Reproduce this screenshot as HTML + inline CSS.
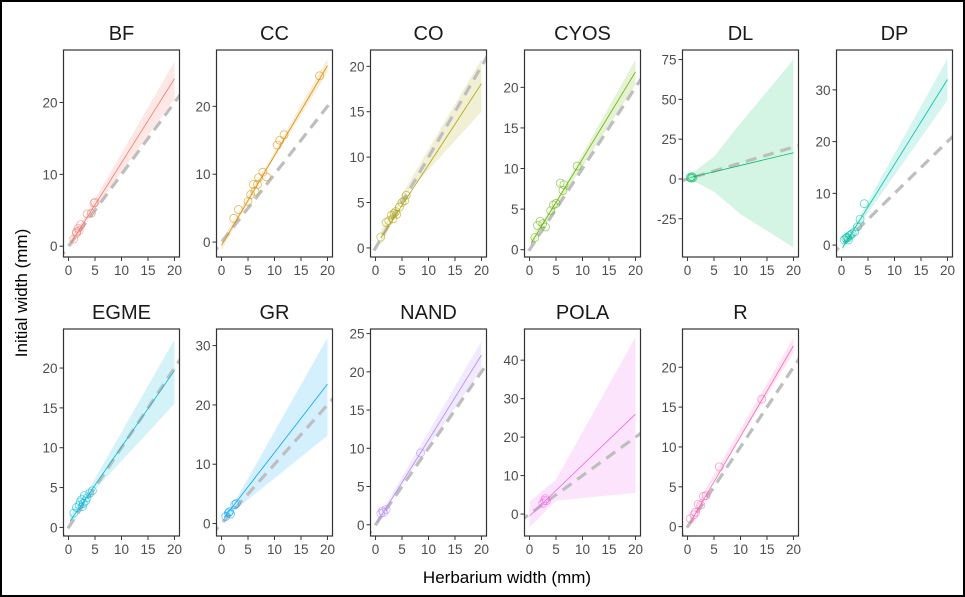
<!DOCTYPE html>
<html><head><meta charset="utf-8"><style>
html,body{margin:0;padding:0;background:#fff}
svg{display:block;font-family:"Liberation Sans",Arial,sans-serif}
</style></head><body>
<svg id="chart" width="965" height="597" viewBox="0 0 965 597">
<rect x="1" y="1" width="963" height="595" fill="#fff" stroke="#000" stroke-width="2"/>
<text x="507" y="583" text-anchor="middle" font-size="17" fill="#000">Herbarium width (mm)</text>
<text transform="translate(27,293) rotate(-90)" text-anchor="middle" font-size="17" fill="#000">Initial width (mm)</text>
</svg>
<script>
const species=["BF","CC","CO","CYOS","DL","DP","EGME","GR","NAND","POLA","R"];
const colors=["#F8766D","#DB8E00","#AEA200","#64B200","#00BD5C","#00C1A7","#00BADE","#00A6FF","#B385FF","#EF67EB","#FF63B6"];
const yDomains=[[-1.5,27.3],[-2.2,28.3],[-1.0,21.8],[-0.9,24.6],[-49,81],[-2.3,37.7],[-1.08,24.9],[-2.1,32.8],[-1.47,25.6],[-5.7,48.1],[-1.17,24.8]];
const yTicks=[[0,10,20],[0,10,20],[0,5,10,15,20],[0,5,10,15,20],[-25,0,25,50,75],[0,10,20,30],[0,5,10,15,20],[0,10,20,30],[0,5,10,15,20,25],[0,10,20,30,40],[0,5,10,15,20]];
const xTicks=[0,5,10,15,20];
// fitted line: [xStart, yStart, xEnd, yEnd]
const fitLines=[[0.5,0.5,20,23.3],[0,-0.5,20,26],[1,1.1,20,18.1],[0.3,0.8,20,21.9],[0.5,0.9,20,16.5],[0.2,-0.5,20,32],[0.3,0.8,20,19.7],[0.5,1.0,20,23.5],[0.3,0.3,20,22.2],[0,-0.5,20,26],[0.5,0.5,20,22.7]];
// ribbon x positions and lower/upper
const ribbonX=[[0.5,3,20],[0,8,20],[1,5,20],[0.3,5,20],[0,1,5,10,20],[0.2,2,20],[0.3,3,20],[0.5,2,20],[0.3,2,20],[0,5,20],[0.5,4,20]];
const ribbonLo=[[-0.2,3.2,20.5],[-1.2,9.9,25],[0.3,5.4,15.0],[0.2,5.2,20.3],[-2,-1,-8,-22,-43],[-1.2,1.9,28],[0,3.3,15.5],[0,1.9,14.8],[-0.3,2.2,20.3],[-3.5,3.5,5.5],[-0.1,4.8,21.8]];
const ribbonHi=[[1.2,4.0,25.7],[0.2,10.6,27],[1.9,5.9,20.8],[1.4,6.0,23.4],[3,4,14,35,75],[0.2,3.0,36],[1.6,3.8,23.6],[2.0,2.9,31.3],[0.9,2.7,24],[3.3,9,46],[1.1,5.4,23.7]];
const ptsX=[[1,1.5,1.8,2,2.3,3.5,4.3,4.8,5,1.5],[2.3,3.2,5,5.5,6,6.3,7,7.8,8.5,6.8,10.5,11,11.8,18.5],[1,2,2.5,3,3.3,3.5,3.8,4,4.5,5,5.5,5.8],[1,1.5,2,2.5,3,4,4.5,5,5.8,6.3,6.5,9],[0.5,0.8,1,0.7],[0.5,0.8,1,1.2,1.5,1.7,2,1.3,2.5,3,3.5,4.3],[1,1.5,2,2.2,2.5,2.8,3,3.2,3.5,2.6,4,4.5],[0.8,1.3,1.5,1.7,2.5,2.8],[1,1.3,1.5,2,8.5],[2.5,2.8,3,3.2],[0.5,1.2,1.5,2,2.5,3,3.5,6,14]];
const ptsY=[[1,2,2.5,2.2,3,4.5,4.6,6,6.1,1.8],[3.5,4.8,6,7,8.5,7.5,9.5,10.3,9.6,8.5,14.3,15,15.8,24.5],[1.2,2.8,3,3.6,3.2,3.8,4,3.7,4.5,5,5.2,5.8],[1.5,3,3.5,3.2,2.8,4.8,5.5,5.7,8.2,7.3,8,10.3],[1,1.5,0.8,0.5],[1,1.3,1.5,1.4,1.8,2,2.2,1,2.6,3.5,5,8],[1.8,2.5,2.8,3.2,3.5,3,4,3.3,3.7,2.6,4.3,4.6],[1.2,1.8,2,1.6,3.2,3.4],[1.5,1.8,1.6,2,9.4],[2.8,3.5,4,3.5],[1,1.5,1.8,2.8,2.7,3.8,3.9,7.5,16]];
const xDomain=[-0.95,20.95];
const panelLeft=[63.5,216.5,370.5,524.5,682.5,836.5,63.5,216.5,370.5,524.5,682.5];
const panelTop=[50,50,50,50,50,50,329,329,329,329,329];
const PW=116, PH=207;
const NS="http://www.w3.org/2000/svg";
const svg=document.getElementById("chart");
function mk(tag,attrs,parent){const e=document.createElementNS(NS,tag);for(const k in attrs)e.setAttribute(k,attrs[k]);(parent||svg).appendChild(e);return e;}
species.forEach((sp,i)=>{
  const L=panelLeft[i],T=panelTop[i];
  const xs=v=>L+(v-xDomain[0])/(xDomain[1]-xDomain[0])*PW;
  const ys=v=>T+PH-(v-yDomains[i][0])/(yDomains[i][1]-yDomains[i][0])*PH;
  const g=mk("g",{});
  
  
  const cp=mk("clipPath",{id:"clip"+i},g);
  mk("rect",{x:L,y:T,width:PW,height:PH},cp);
  const title=mk("text",{x:L+PW/2,y:T-10,"text-anchor":"middle","font-size":20,fill:"#1a1a1a"},g);
  title.textContent=sp;
  
  
  const inner=mk("g",{"clip-path":"url(#clip"+i+")"},g);
  const rx=ribbonX[i];
  let d="";
  rx.forEach((x,j)=>{d+=(j?"L":"M")+xs(x)+","+ys(ribbonHi[i][j]);});
  for(let j=rx.length-1;j>=0;j--)d+="L"+xs(rx[j])+","+ys(ribbonLo[i][j]);
  const rib=mk("path",{d:d+"Z",fill:colors[i],"fill-opacity":0.17,stroke:"none"},inner);
  
  
  const ref=mk("line",{x1:xs(-2),y1:ys(-2),x2:xs(22),y2:ys(22),stroke:"#BEBEBE","stroke-width":3.2,"stroke-dasharray":"11,7"},inner);
  
  
  const f=fitLines[i];
  const fl=mk("line",{x1:xs(f[0]),y1:ys(f[1]),x2:xs(f[2]),y2:ys(f[3]),stroke:colors[i],"stroke-width":0.8},inner);
  
  
  ptsX[i].forEach((x,j)=>{
    const c=mk("circle",{cx:xs(x),cy:ys(ptsY[i][j]),r:4,fill:"none",stroke:colors[i],"stroke-width":0.8,"stroke-opacity":0.65},inner);
    
    
  });
  const fr=mk("rect",{x:L,y:T,width:PW,height:PH,fill:"none",stroke:"#333","stroke-width":1.2},g);
  
  
  xTicks.forEach(t=>{
    mk("line",{x1:xs(t),y1:T+PH,x2:xs(t),y2:T+PH+4,stroke:"#333","stroke-width":1},g);
    const tx=mk("text",{x:xs(t),y:T+PH+18,"text-anchor":"middle","font-size":13.5,fill:"#4D4D4D"},g);
    tx.textContent=t;
    
    
  });
  yTicks[i].forEach(t=>{
    mk("line",{x1:L-4,y1:ys(t),x2:L,y2:ys(t),stroke:"#333","stroke-width":1},g);
    const ty=mk("text",{x:L-6,y:ys(t)+5,"text-anchor":"end","font-size":13.5,fill:"#4D4D4D"},g);
    ty.textContent=t;
    
    
  });
});
</script>
</body></html>
